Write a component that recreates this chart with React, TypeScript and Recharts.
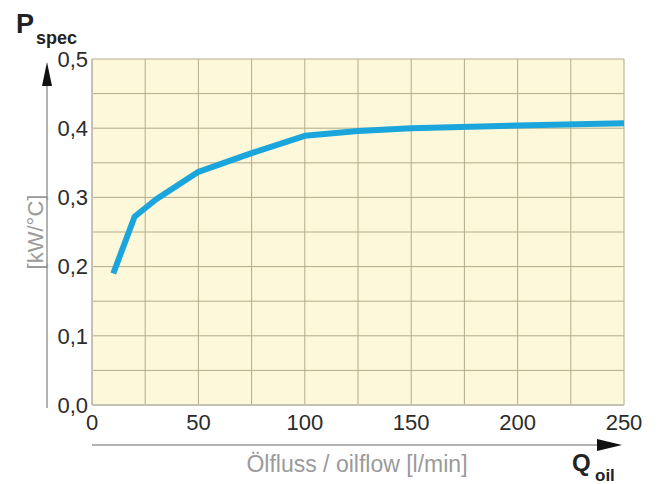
import React from "react";
import { LineChart, Line, XAxis, YAxis, CartesianGrid } from "recharts";

const flow = [10, 20, 30, 50, 75, 100, 125, 150, 200, 250];
const pspec = [0.19, 0.272, 0.297, 0.337, 0.364, 0.389, 0.396, 0.4, 0.404, 0.407];
const xTicks = [0, 25, 50, 75, 100, 125, 150, 175, 200, 225, 250];
const yTicks = [0, 0.05, 0.1, 0.15, 0.2, 0.25, 0.3, 0.35, 0.4, 0.45, 0.5];

const data = flow.map((q, i) => ({ q, p: pspec[i] }));

const FONT = "'Liberation Sans', Arial, Helvetica, sans-serif";

const fmtX = (v: number) => (v % 50 === 0 ? String(v) : "");
const fmtY = (v: number) => {
  const k = Math.round(v * 100);
  return k % 10 === 0 ? (v.toFixed(1)).replace(".", ",") : "";
};

export default function App() {
  return (
    <div style={{ position: "relative", width: 651, height: 476, fontFamily: FONT }}>
      <LineChart
        width={651}
        height={476}
        data={data}
        margin={{ top: 51, right: 35, left: 0, bottom: 49 }}
      >
        <CartesianGrid
          stroke="#b3ac8c"
          strokeWidth={1}
          fill="#fdf8d9"
          fillOpacity={1}
        />
        <XAxis
          dataKey="q"
          type="number"
          domain={[0, 250]}
          ticks={xTicks}
          tickFormatter={fmtX}
          interval={0}
          axisLine={{ stroke: "#c4c1b5", strokeWidth: 2 }}
          tickLine={false}
          tickSize={0}
          tickMargin={9}
          height={30}
          tick={{ fill: "#2b2b2b", fontSize: 22, fontFamily: FONT }}
        />
        <YAxis
          type="number"
          domain={[0, 0.5]}
          ticks={yTicks}
          tickFormatter={fmtY}
          interval={0}
          width={84}
          axisLine={{ stroke: "#c4c1b5", strokeWidth: 2 }}
          tickLine={false}
          tickSize={0}
          tickMargin={4}
          tick={{ fill: "#2b2b2b", fontSize: 22, fontFamily: FONT }}
        />
        <Line
          dataKey="p"
          type="linear"
          stroke="#1aa6dc"
          strokeWidth={6}
          dot={false}
          isAnimationActive={false}
          strokeLinejoin="round"
        />
      </LineChart>
      <svg
        width={651}
        height={476}
        style={{ position: "absolute", left: 0, top: 0, pointerEvents: "none" }}
      >
        <text x={8} y={25} fontFamily={FONT} fontWeight="bold" fontSize={27} fill="#222">
          P
        </text>
        <text x={28} y={36} fontFamily={FONT} fontWeight="bold" fontSize={18} fill="#222">
          spec
        </text>
        <line x1={39} y1={74} x2={39} y2={400} stroke="#999" strokeWidth={1.5} />
        <polygon points="39,54 34,78 44,78" fill="#111" />
        <text
          x={0}
          y={0}
          transform="translate(27,224) rotate(-90)"
          textAnchor="middle"
          dominantBaseline="central"
          fontFamily={FONT}
          fontSize={22}
          fill="#9a9a9a"
        >
          [kW/°C]
        </text>
        <line x1={84} y1={437} x2={592} y2={437} stroke="#999" strokeWidth={1.5} />
        <polygon points="614,437 589,431 589,443" fill="#111" />
        <text
          x={349}
          y={464}
          textAnchor="middle"
          fontFamily={FONT}
          fontSize={23}
          fill="#9a9a9a"
        >
          Ölfluss / oilflow [l/min]
        </text>
        <text x={564} y={463} fontFamily={FONT} fontWeight="bold" fontSize={24} fill="#222">
          Q
        </text>
        <text x={587} y={473} fontFamily={FONT} fontWeight="bold" fontSize={17} fill="#222">
          oil
        </text>
      </svg>
    </div>
  );
}
